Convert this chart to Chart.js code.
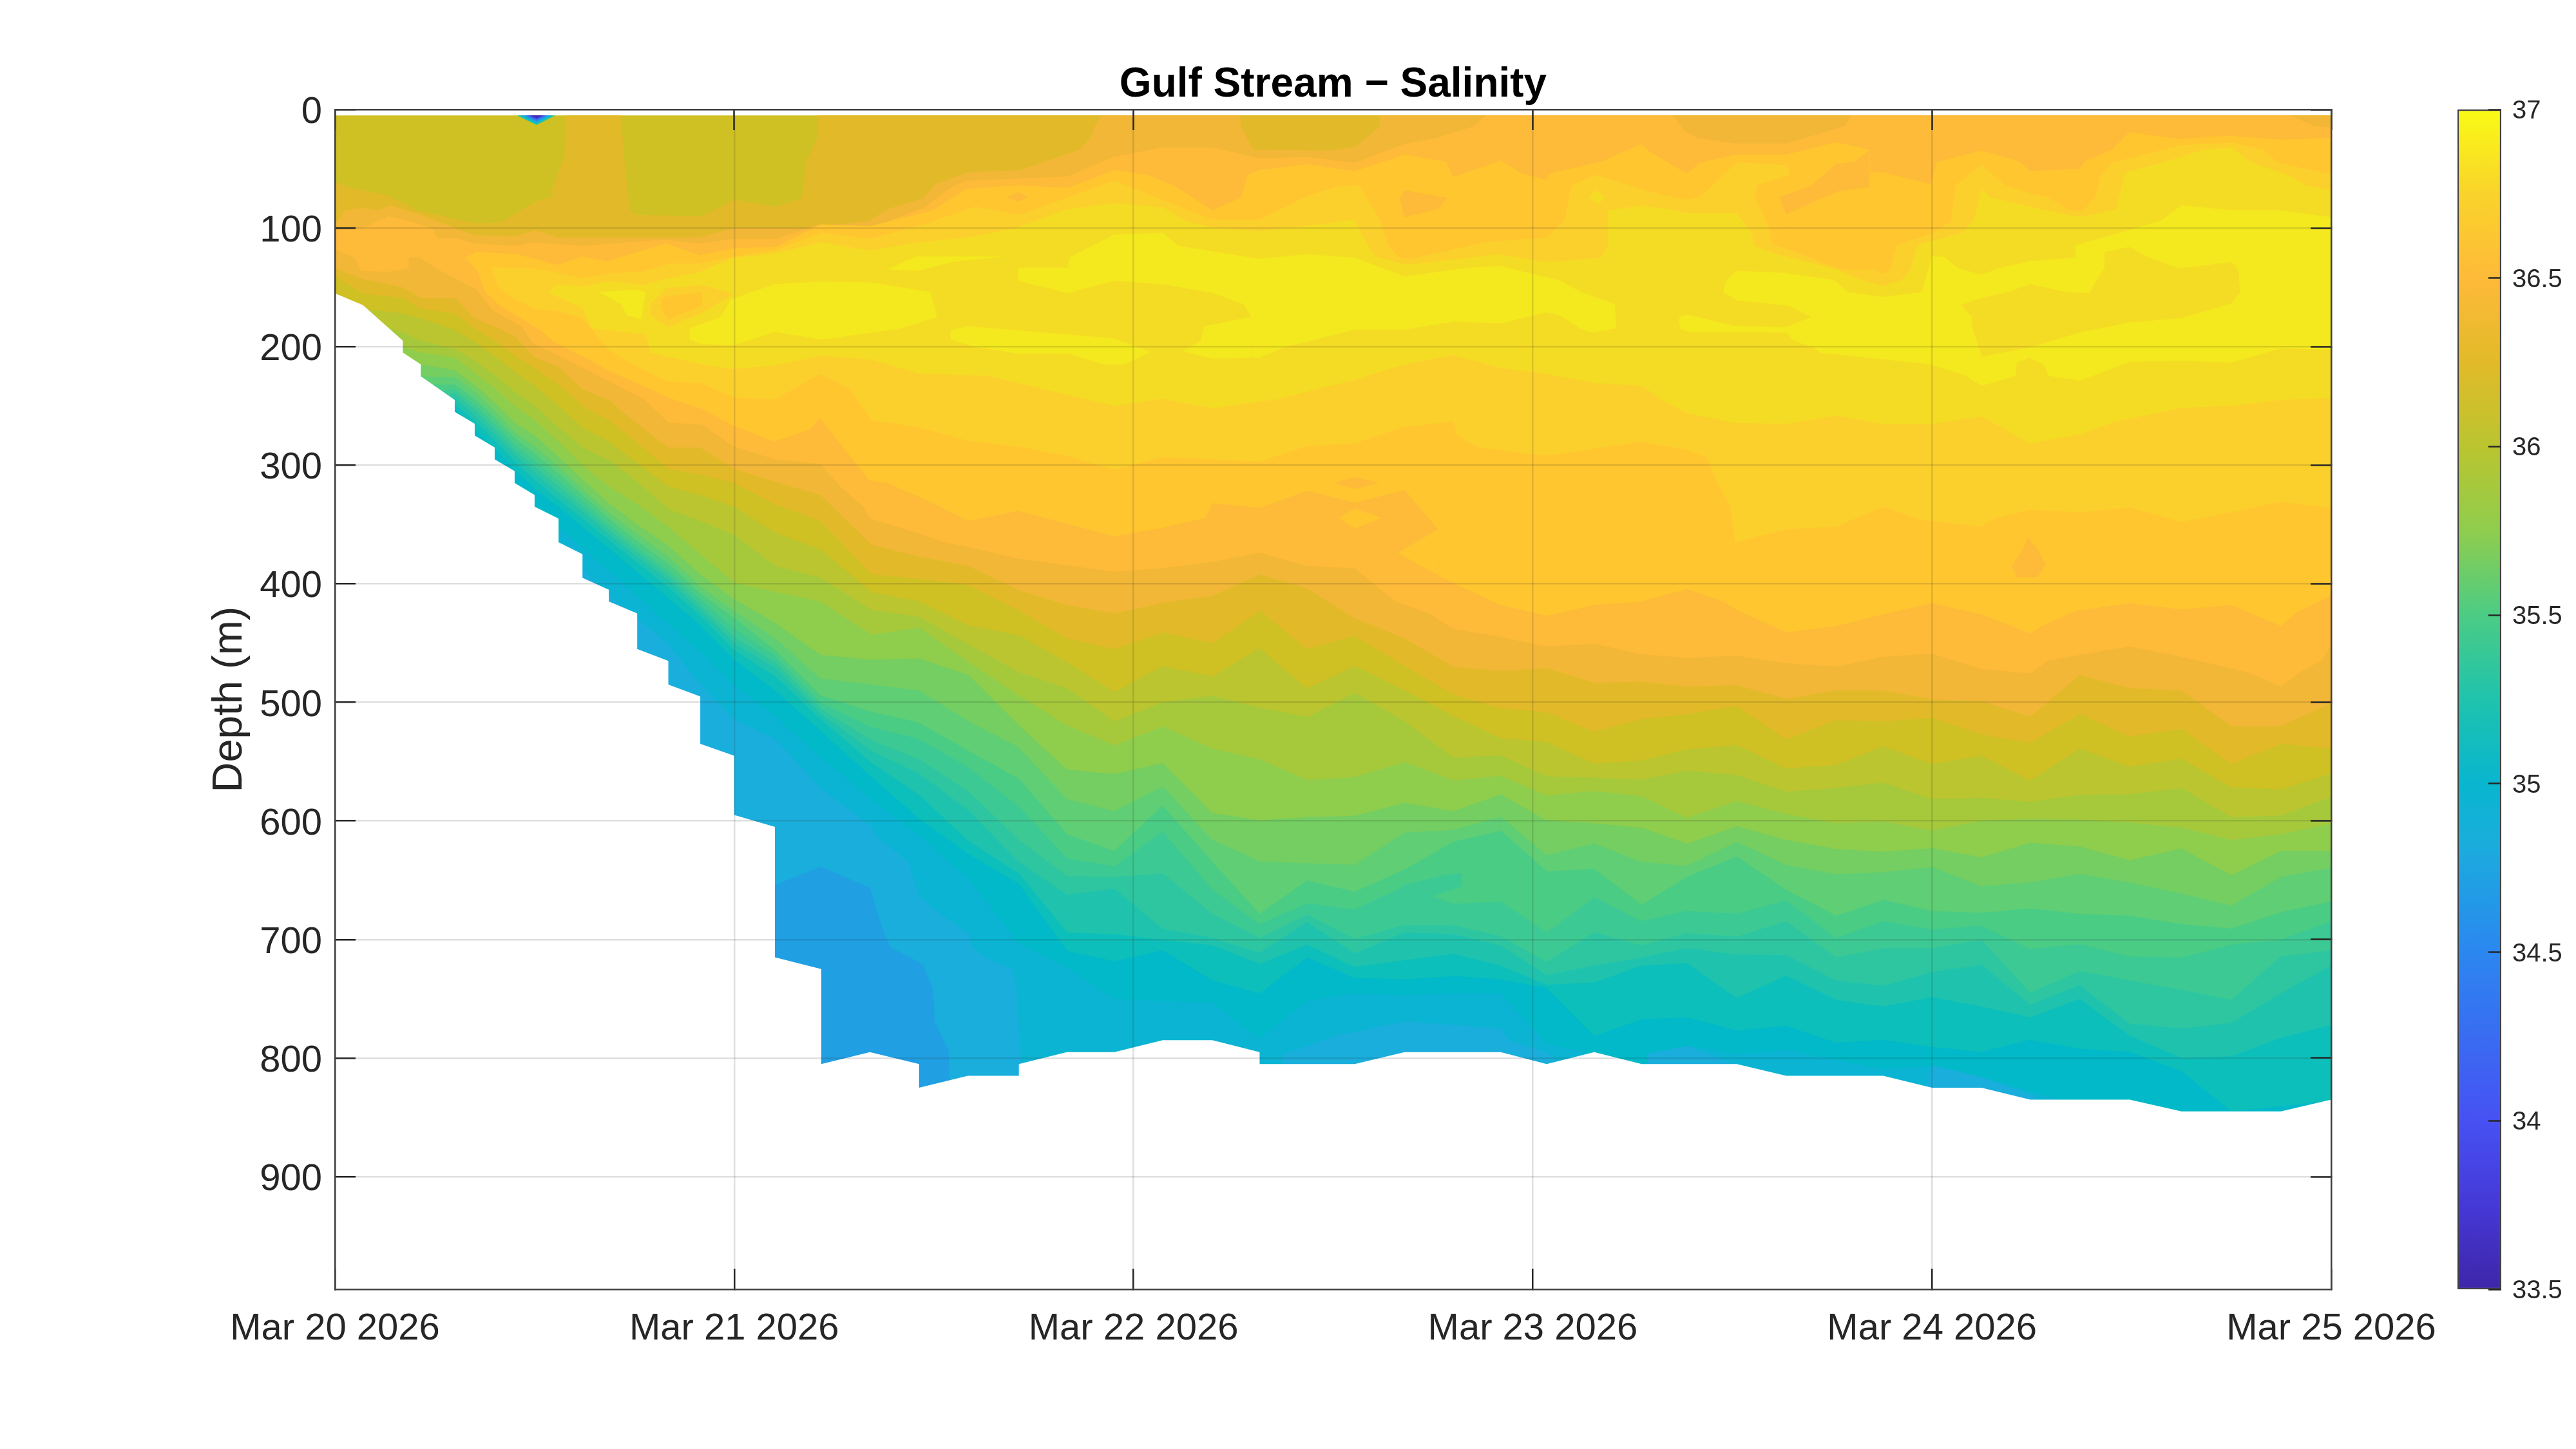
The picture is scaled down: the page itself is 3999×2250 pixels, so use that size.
<!DOCTYPE html>
<html><head><meta charset="utf-8">
<script src="https://cdn.jsdelivr.net/npm/chart.js@4"></script>
<style>html,body{margin:0;padding:0;background:#fff;width:3999px;height:2250px;overflow:hidden}
canvas{position:absolute;top:0}</style></head>
<body><canvas id="main" width="3999" height="2250" style="left:0"></canvas><canvas id="bar" width="239" height="2250" style="left:3760px"></canvas>
<script>
// ---------- axis labels ----------
const chartTitle='Gulf Stream − Salinity';
const yTitle='Depth (m)';
const dateLabels=['Mar 20 2026','Mar 21 2026','Mar 22 2026','Mar 23 2026','Mar 24 2026','Mar 25 2026'];
const depthTicks=[0,100,200,300,400,500,600,700,800,900];
const colorRange=[33.5,37];
// ---------- profile times (days since Mar 20) ----------
const T=[0,.07,.17,.215,.30,.35,.40,.45,.50,.56,.62,.686,.757,.835,.915,1.0,1.103,1.216,1.344,1.463,1.587,1.713,1.834,1.952,2.073,2.198,2.316,2.435,2.554,2.679,2.801,2.92,3.035,3.154,3.273,3.386,3.511,3.635,3.76,3.878,4.0,4.124,4.246,4.37,4.495,4.625,4.75,4.874,5.0];
// ---------- lower salinity contours: depth (m) at each profile time ----------
const iso_B=[134,143,150,159,159,176,183,191,209,217,236,245,265,285,285,303,314,325,367,377,385,405.5,418,425,416,410,392,404,429,446,470,473.5,471,483.5,482.5,486.6,485.6,497,490,490,497.5,499,512,477,488,490,520,520,500.6];
const iso_C=[141,155,159,168,172,185,195,207,218,232,250,262,281,303,308,315,333,347,392,396,401,422.6,446,455,441,450,422.6,455,444,469.4,493,505,508.4,524.6,514,510,503,531,515,516,513,527,534,510,528.7,522.4,552,535,539];
const iso_D=[160,168,172,176,186,196,208,221,233,250,268,280,298,318,325,335,357,371,407,415,435,443.5,466.3,491.2,469.4,478.1,454.4,488.1,469.4,489.7,511.5,530.2,533.4,552,549,539.6,535.9,555.8,552.7,537.1,552.1,544.9,566.1,539,554.3,547.4,571.7,573.3,559.9];
const iso_E=[170,178,188,195,202,212,224,238,250,268,285,296,314,337,347,359,385,395,422,428,451,474.7,488.1,516.2,500,494.4,504.4,512.5,491.9,516.2,546.5,544.9,562.4,563.6,565.2,557.7,561.4,575.5,572.3,567.7,581.7,580.5,583.9,578,577.6,572.3,596.7,595.4,580.1];
const iso_F=[180,188,200,205,209,222,235,250,262,280,300,318,333,352,375,399,407,415,443,437,466,494.4,519.3,536.5,520.3,539,548,565.5,563,550.5,566,562,578.6,574.8,579.2,597.3,583.3,594.2,602,600.4,608.2,599.8,598.2,598.9,601.4,605.7,616,611.3,602];
const iso_G=[190,198,210,215,220,232,247,264,275,293,312,332,350,368,392,413,433,460,464,463,477,519.3,556.7,560.5,551.1,593.2,599.5,596.7,595.7,584.8,591.7,577.6,599.5,602,605.7,619.1,604.5,616,623.8,626,622.9,630.7,618.5,621.6,633.2,623.2,645.6,625.4,625.4];
const iso_H=[200,208,220,225,226,238,254,272,284,301,320,340,358,377,402,423,446,480,485,490,516,538,581.7,591.7,570.8,616,634,635.7,637,609.8,607.6,596.4,629,619,634.7,637.8,617.6,637.2,645,643.2,638.8,655,651.9,644.7,651.9,661.2,671.5,647.2,639.4];
const iso_I=[210,218,230,232,232,244,260,277,290,307,325,345,364,383,408,429,456,494,508,517,541,564.5,611.3,625.4,587,634.7,678.4,650.3,659.7,641,617.6,608.2,642.5,640.3,670.6,647.2,630,658.1,680,666.5,675.9,677.5,673.7,678.4,680,687.1,690.9,676.8,668.1];
const iso_J=[220,228,240,240,236,249,265,282,296,313,330,350,369,389,413,438,461,500,521,531,555,588,631.6,638.5,609,658.1,687.1,669.6,674.7,655,670,668,694,664.4,684.6,675.9,678.4,666.9,698.7,684.6,691.5,688.4,708,704,714.3,715.2,704.3,700.2,684.6];
const iso_K=[230,238,250,250,239,253,269,287,301,318,335,354,373,393,418,445,466,505,532,548,575,616,646.6,647.2,644.1,678.4,698.7,679,699.6,687.8,687.8,697.1,719,694,704.9,694.6,697.7,684.6,714.9,707.4,707.4,700.2,744.8,726.7,734.5,742.3,750.8,714.3,709];
const iso_L=[240,248,260,260,243,258,274,291,306,323,339,358,377,397,422,450,471,509,541,560,591,634.7,662.2,657.2,690.9,698.7,711.1,685.3,711.8,694,695.6,705,729.9,722,715.2,707.1,712.7,713.3,734.5,739.2,727.4,721.4,754.8,738.6,771,775.1,770.4,745.5,722];
const iso_M=[250,258,270,270,248,263,279,297,312,329,345,363,382,403,427,456,478,514,551,578,617,644.1,694,695.6,700.2,704.9,720.5,704.3,723,717.4,712.1,722.1,738.3,736.1,722.1,719.9,749.2,730.5,750.8,756.4,748.6,756.4,765.7,750.1,781,800,798.5,782.9,772];
const iso_N=[260,268,280,280,252,270,286,304,320,335,352,370,390,412,435,464,490,524,563,598,628,653,709.6,718.3,709,734.5,745.5,715.2,732.4,733.6,730.8,733.6,740.8,781.3,767.3,765.7,776.6,772.9,787,784.5,790.7,794.7,784.5,792.2,794.7,811,845,840.6,836];
const iso_O=[270,278,290,290,260,285,300,318,335,352,370,389,410,434,457,485,512,546,582,612,649,703,723.6,750.2,751.7,753.3,783.8,751.7,745.5,747,745.5,745.5,787.6,797,806,789,797,793,801.6,809.4,806.3,815.6,828,840,840,860,860,860,860];
// ---------- contours with their own vertices: [day, depth m] ----------
const surface=[[0,5],[5,5]];
const iso_S1=[[0,61],[.037,66],[.128,72],[.207,85],[.309,93],[.354,96],[.416,95],[.501,78],[.541,74],[.546,65],[.575,40],[.577,5],[.716,5],[.728,54],[.739,85],[.756,89],[.92,90],[.999,76],[1.101,82],[1.169,75],[1.18,44],[1.208,24],[1.209,5],[5,5]];
const iso_S2=[[0,97],[.026,85],[.071,83],[.105,85],[.139,81],[.207,88],[.349,106],[.45,107],[.501,102],[.558,108],[.75,108],[.914,108],[.999,100],[1.18,100],[1.339,94],[1.384,84],[1.474,75],[1.503,63],[1.587,53],[1.717,51],[1.864,34],[1.892,24],[1.903,15],[1.92,5],[2.266,5],[2.27,15],[2.30,34],[2.497,34.5],[2.554,31.6],[2.616,15],[2.617,5],[5,5]];
const iso_S3=[[0,102],[.071,100],[.134,90],[.207,96],[.247,101],[.258,109],[.298,108],[.349,113],[.45,115],[.501,112],[.62,115],[.773,111],[.829,110],[.914,113],[.999,109],[1.107,109],[1.169,102],[1.214,97],[1.344,100],[1.474,83],[1.542,66],[1.581,60],[1.836,56.5],[1.949,40],[2.073,32],[2.198,32],[2.316,41],[2.435,40],[2.554,45],[2.679,29],[2.758,24],[2.854,14],[2.882,5],[3.352,5],[3.38,18],[3.414,24],[3.51,28.7],[3.635,28.7],[3.782,14],[3.799,5],[4.897,5],[4.959,14],[5,15]];
const iso_S4=[[0,125],[.326,125],[.354,120],[.456,122],[.558,131],[.62,124],[.682,128],[.829,113],[.914,123],[.999,117],[1.107,115.5],[1.18,103],[1.22,97],[1.339,98.5],[1.497,85],[1.582,67],[1.711,64],[1.836,66],[1.952,51],[2.034,55],[2.101,64],[2.198,85],[2.271,74],[2.285,55],[2.316,51],[2.435,46],[2.554,52],[2.679,38],[2.783,44],[2.801,57],[2.92,43],[2.973,54],[3.035,59.5],[3.041,54],[3.171,44],[3.273,29],[3.29,35],[3.386,54],[3.42,44.5],[3.51,38],[3.635,38],[3.76,27.5],[3.844,34],[3.846,53],[3.878,53],[3.997,63],[4.011,44.5],[4.124,34.5],[4.218,43.7],[4.246,52],[4.371,50],[4.382,43.7],[4.45,34],[4.495,19],[4.62,25],[4.744,22],[4.874,25.5],[5,24]];
const iso_S5=[[0,133],[.391,133],[.501,134],[.62,142],[.694,138],[.767,137],[.841,130],[.914,130],[.999,124],[1.101,119],[1.18,109],[1.22,104],[1.339,109],[1.474,97],[1.576,85],[1.604,82],[1.717,89],[1.836,74],[1.952,60],[2.198,93],[2.316,93],[2.435,73],[2.509,65],[2.565,64],[2.616,92],[2.639,115],[2.665,125],[2.695,126],[2.882,112],[3.035,108],[3.08,93.5],[3.097,64],[3.154,55],[3.29,69],[3.386,76.5],[3.42,74],[3.51,44.5],[3.635,47],[3.646,55],[3.647,119],[3.771,135],[3.853,135],[3.878,139],[3.895,135],[3.912,114.5],[3.997,105],[4.048,94.6],[4.059,64],[4.124,47],[4.184,64],[4.252,71.6],[4.291,74],[4.342,85],[4.376,86],[4.41,74],[4.421,57],[4.45,45],[4.625,30],[4.75,28],[4.829,34],[4.868,45],[5,55]];
const iso_S6=[[0,150],[.533,154],[.558,147.5],[.62,149.4],[.688,144.6],[.773,148],[.829,143],[.914,137],[.999,125],[1.101,121.5],[1.22,112],[1.339,119],[1.463,112],[1.587,108],[1.711,99.5],[1.83,84.5],[1.949,79],[2.073,82.5],[2.135,94.7],[2.198,99.5],[2.316,102.7],[2.43,98.3],[2.554,93],[2.582,111.6],[2.605,123.8],[2.684,131],[2.916,122],[3.035,128.6],[3.171,125],[3.188,114.6],[3.189,85],[3.273,81],[3.355,85],[3.386,87.4],[3.51,87.4],[3.55,104.4],[3.552,114.6],[3.601,121],[3.76,134.7],[3.816,143],[3.878,149],[3.924,144],[3.946,134.7],[3.963,114],[4.076,104],[4.105,93.5],[4.124,67],[4.144,74],[4.252,82.5],[4.371,91],[4.461,84],[4.484,53.4],[4.625,40],[4.682,34],[4.75,32],[4.801,45],[4.897,56],[4.936,64],[5,68]];
const iso_D21=[[0,150],[.533,154],[.62,167.6],[.643,184.6],[.778,189.5],[.79,205],[.92,215],[.999,219],[1.101,215.7],[1.22,207.7],[1.344,211],[1.463,222.7],[1.633,224.6],[1.649,225.6],[1.952,250],[2.073,244],[2.198,252],[2.367,244],[2.435,237.8],[2.554,228],[2.667,216],[2.801,207],[2.92,218],[3.035,223],[3.154,230.5],[3.273,233],[3.29,236.6],[3.324,245],[3.386,256],[3.51,264.5],[3.635,265],[3.76,258],[3.878,265.6],[4.0,265],[4.124,259],[4.246,281.5],[4.371,274],[4.461,263],[4.625,251.6],[4.75,250],[4.874,245],[5,243.4]];
const iso_D20=[[0,125],[.391,133],[.41,150],[.45,160],[.5,168],[.56,170],[.62,176],[.686,203],[.757,217],[.835,229.5],[.915,230.7],[1.0,243],[1.103,244.6],[1.216,223],[1.29,235.6],[1.344,262],[1.463,268],[1.587,279.5],[1.717,284.6],[1.836,292.4],[1.952,304],[2.073,293],[2.316,297],[2.435,284],[2.554,281.5],[2.679,267.6],[2.801,263],[2.809,274],[2.86,284.6],[3.035,292],[3.273,280],[3.29,281.5],[3.386,287],[3.437,293.6],[3.46,314],[3.494,333.6],[3.507,365],[3.635,354],[3.76,351.8],[3.878,335],[3.969,345.7],[4.124,351.8],[4.155,345],[4.246,337.7],[4.371,339.6],[4.495,335.5],[4.625,347.7],[4.75,339.6],[4.874,330.7],[5,336]];
const iso_D19=[[0,125],[.326,125],[.356,136],[.377,154],[.411,165],[.513,186],[.552,196.7],[.637,211],[.688,221],[.773,233],[.835,243],[.92,252.5],[.999,267],[1.101,280],[1.191,269.5],[1.214,260],[1.225,264.7],[1.271,284],[1.339,313],[1.384,315],[1.486,330],[1.587,347],[1.711,338.5],[1.952,360],[2.068,353],[2.18,344.5],[2.198,332],[2.316,336],[2.435,321.5],[2.554,331.7],[2.679,321],[2.763,354],[2.764,393],[2.78,396],[2.92,418],[3.035,427],[3.154,418],[3.273,415],[3.29,413],[3.386,404.5],[3.477,415],[3.511,422],[3.635,441],[3.76,435.7],[3.878,425.7],[4,416.4],[4.124,425.7],[4.246,442],[4.274,435.7],[4.359,423],[4.495,416.4],[4.625,421.7],[4.75,418],[4.874,435.7],[4.914,424],[5,410]];
const iso_D18=[[0,118],[.049,125],[.065,136],[.133,137],[.184,134],[.185,125],[.213,125],[.258,135],[.354,152],[.394,169],[.467,183],[.496,197],[.603,215],[.688,229.5],[.773,244],[.835,264],[.92,266],[.999,284],[1.101,295],[1.216,299],[1.265,318],[1.322,334.6],[1.339,344.8],[1.463,357.7],[1.525,365],[1.587,369],[1.713,379],[1.952,390],[2.073,387],[2.198,381.5],[2.316,374],[2.435,385],[2.554,387],[2.656,415],[2.741,425],[2.801,438],[2.92,445],[3.035,453],[3.154,450.7],[3.273,459.5],[3.386,462.6],[3.511,460.7],[3.635,467],[3.76,470],[3.878,461.6],[4,459],[4.124,472],[4.246,475.6],[4.291,464.7],[4.371,460],[4.495,453],[4.625,461.6],[4.795,475],[4.874,487],[4.925,474],[4.976,464.7],[5,452]];
const iso_P=[[0,300],[.50,345],[.56,370],[.62,388],[.686,410],[.757,429],[.835,451],[.915,485],[1.0,514],[1.103,531],[1.216,572],[1.344,605],[1.36,614],[1.438,635],[1.452,652],[1.465,664],[1.505,675.7],[1.589,695.6],[1.594,704.7],[1.626,714.7],[1.696,724.7],[1.707,741],[1.718,800],[1.72,830],[2.373,830],[2.374,797],[2.509,781],[2.679,769],[2.801,772],[2.92,775],[2.94,785],[3.035,795],[3.087,810],[3.1,840],[3.28,840],[3.29,796],[3.386,790],[3.511,806],[3.6,860],[3.96,860],[4.0,806],[4.124,816],[4.246,831],[4.4,860],[5,860]];
const floor_depth=[[0,155],[.07,165],[.17,195],[.17,205],[.215,215],[.215,225],[.30,245],[.30,255],[.35,265],[.35,275],[.40,285],[.40,295],[.45,305],[.45,315],[.50,325],[.50,335],[.56,345],[.56,365],[.62,375],[.62,395],[.686,405],[.686,415],[.757,425],[.757,455],[.835,465],[.835,485],[.915,495],[.915,535],[1.0,545],[1.0,595],[1.102,605],[1.102,715],[1.218,725],[1.218,805],[1.34,795],[1.463,805],[1.463,825],[1.585,815],[1.713,815],[1.713,805],[1.833,795],[1.952,795],[2.073,785],[2.198,785],[2.316,795],[2.316,805],[2.554,805],[2.679,795],[2.92,795],[3.035,805],[3.154,795],[3.273,805],[3.511,805],[3.635,815],[3.878,815],[4.0,825],[4.124,825],[4.246,835],[4.495,835],[4.625,845],[4.874,845],[5,835]];
// ---------- closed patches: upper / lower edge ----------
const hi1u=[[.889,184.6],[.965,175],[.993,160],[1.101,147.5],[1.22,145],[1.344,146],[1.491,154],[1.508,175]];
const hi1l=[[.889,194],[.92,198],[.999,198.7],[1.101,187.5],[1.22,194],[1.418,184.6],[1.508,175]];
const hi2u=[[.66,154],[.756,152],[.778,154]];
const hi2l=[[.66,154],[.716,164],[.733,174],[.767,176.4],[.778,154]];
const hi3u=[[1.384,135],[1.457,124],[1.678,124]];
const hi3l=[[1.384,135],[1.46,136],[1.55,128.3],[1.678,124]];
const hi4u=[[1.542,186],[1.587,182.7],[1.949,193],[2.043,204.6]];
const hi4l=[[1.542,194],[1.6,200],[1.711,205.8],[1.836,205.8],[1.926,215],[1.979,215],[2.043,204.6]];
const hi5u=[[1.711,133.5],[1.836,133.5],[1.841,124.5],[1.952,105.6],[2.073,104],[2.113,115],[2.316,126],[2.435,122],[2.554,125],[2.679,141],[2.826,134],[2.916,132],[3.069,144.4],[3.12,154],[3.205,164],[3.21,184.4]];
const hi5l=[[1.711,144.4],[1.836,154.8],[1.952,144.4],[2.073,147.3],[2.198,154.6],[2.277,164.3],[2.294,174.7],[2.295,209],[2.316,209.4],[2.373,201],[2.554,185.6],[2.679,185.6],[2.801,178.8],[2.92,180.3],[3.035,171],[3.069,174],[3.12,185],[3.148,188],[3.21,184.4]];
const hi6u=[[2.124,204],[2.169,194.9],[2.177,183],[2.294,174.7]];
const hi6l=[[2.124,204],[2.198,210],[2.294,209.5]];
const hi7u=[[3.477,154],[3.485,144.4],[3.511,136],[3.629,137.8],[3.756,143.9],[3.788,154],[3.878,158],[3.975,154],[4.0,123.8],[4.031,124.3],[4.065,133.9],[4.124,139.5],[4.167,133.9],[4.246,127.9],[4.359,125],[4.36,114.6],[4.574,93.9],[4.625,80.8],[4.75,85],[4.868,85],[5,91]];
const hi7l=[[3.477,154],[3.511,160.9],[3.641,165.5],[3.697,174.7],[3.698,199.7],[3.72,205],[3.997,215],[4.082,224],[4.125,233],[4.21,224.5],[4.212,213.5],[4.244,209.4],[4.28,215],[4.291,224.5],[4.371,228.6],[4.495,212.8],[4.625,211.8],[4.75,213.5],[4.874,201.4],[5,202.6]];
const hi8u=[[3.367,175.4],[3.386,172.8],[3.505,182.5],[3.635,183.7],[3.697,175]];
const hi8l=[[3.367,180.8],[3.371,185],[3.392,187.6],[3.635,188],[3.654,195],[3.697,200]];
const lakeu=[[4.071,165],[4.122,159],[4.19,154],[4.246,147.3],[4.337,154],[4.393,154.8],[4.431,134],[4.432,120],[4.495,115.8],[4.535,123.8],[4.62,134],[4.75,128.6],[4.767,134.7],[4.772,154]];
const lakel=[[4.071,165],[4.099,174.7],[4.1,183.2],[4.125,208.7],[4.252,200],[4.371,188],[4.495,179.6],[4.625,176],[4.75,163.8],[4.772,154]];
const ringu=[[.79,164],[.829,150.7],[.92,148],[.999,155.5]];
const ringl=[[.79,173.7],[.835,183.4],[.92,171.3],[.999,155.5]];
const coreu=[[.816,160.4],[.829,157.9],[.92,153.6]];
const corel=[[.816,167.7],[.835,177.3],[.92,165.2]];
const d1u=[[1.681,74],[1.711,69.7],[1.737,74]];
const d1l=[[1.681,74],[1.711,77.7],[1.737,74]];
const d2u=[[2.667,75],[2.679,68],[2.786,74.5]];
const d2l=[[2.667,75],[2.679,91],[2.763,84],[2.786,74.5]];
const d3u=[[3.14,74],[3.16,68],[3.18,74]];
const d3l=[[3.14,74],[3.165,80],[3.18,74]];
const p19u=[[3.556,74],[3.562,64],[3.646,55]];
const p19l=[[3.556,74],[3.59,98],[3.601,114],[3.646,119]];
const p18u=[[3.618,74],[3.697,64.4],[3.76,46],[3.808,43.7],[3.844,34]];
const p18l=[[3.618,74],[3.635,88.6],[3.703,77.7],[3.765,69],[3.844,65.5]];
const w1u=[[2.662,374],[2.763,354]];
const w1l=[[2.662,374],[2.763,393]];
const d4u=[[2.503,315],[2.554,310],[2.616,315]];
const d4l=[[2.503,315],[2.554,320],[2.616,315]];
const d5u=[[2.514,344.5],[2.554,336.5],[2.622,344.5]];
const d5l=[[2.514,344.5],[2.554,353.5],[2.622,344.5]];
const d6u=[[4.20,385],[4.229,370],[4.24,361],[4.263,370],[4.286,384]];
const d6l=[[4.20,385],[4.213,394.6],[4.263,394.6],[4.286,384]];
const tongueu=[[2.667,655],[2.78,645.6],[2.823,644]];
const tonguel=[[2.667,655],[2.741,664.4],[2.823,655]];
const q1u=[[1.102,654],[1.218,638.6],[1.341,656.6],[1.357,675.6],[1.374,693.8],[1.392,706.5],[1.473,721],[1.497,741],[1.503,770],[1.537,793.5],[1.54,830]];
const q1l=[[1.102,840],[1.54,840]];
const wedgeDepths=[13,11.5,10,8.5,7];
const wedgeStart=[.456,.465,.474,.482,.49];
const wedgeEnd=[.552,.543,.535,.527,.52];
const wedgeMid=.505;

// ---------- styles ----------
const colBand={c1:'#209fe3',c2:'#1aaedc',c3:'#0bb4d2',c4:'#01b9c8',c5:'#0dbfba',c6:'#1fc3ad',c7:'#2ec6a1',c8:'#3cc993',c9:'#4acc85',c10:'#60ce74',c11:'#74ce61',c12:'#8fcd4d',c13:'#a6c93c',c14:'#bac52f',c15:'#cfc023',c16:'#e2ba29',c17:'#f2b737',c18:'#feba39',c19:'#ffc630',c20:'#fbd02c',c21:'#f5dc24',c22:'#f4e91e'};
const wedgeCols=['#1fc3ad','#12aedc','#2d85f0','#4648e0','#3b2aa8'];
const ink='#262626', frame='#404040';
const grid='rgba(38,38,38,0.15)';

const ds=[];
const pts=a=>a.map(([x,y])=>({x,y}));
const zipT=a=>T.map((x,i)=>[x,a[i]]);
function layer(a,color){ds.push({data:pts(a),backgroundColor:color,fill:{value:995},borderWidth:0,pointRadius:0,tension:0});}
function patch(u,l,color){
  ds.push({data:pts(u),backgroundColor:color,fill:'+1',borderWidth:0,pointRadius:0,tension:0});
  ds.push({data:pts(l),backgroundColor:'rgba(0,0,0,0)',fill:false,borderWidth:0,pointRadius:0,tension:0});
}
const C=colBand;
layer(surface,C.c15);layer(iso_S1,C.c16);layer(iso_S2,C.c17);layer(iso_S3,C.c18);layer(iso_S4,C.c19);layer(iso_S5,C.c20);layer(iso_S6,C.c21);
patch(hi1u,hi1l,C.c22);patch(hi2u,hi2l,C.c22);patch(hi3u,hi3l,C.c22);patch(hi4u,hi4l,C.c22);patch(hi5u,hi5l,C.c22);patch(hi6u,hi6l,C.c22);patch(hi7u,hi7l,C.c22);patch(hi8u,hi8l,C.c22);
patch(lakeu,lakel,C.c21);patch(ringu,ringl,C.c20);patch(coreu,corel,C.c19);patch(d3u,d3l,C.c21);
patch(p19u,p19l,C.c19);patch(d1u,d1l,C.c18);patch(d2u,d2l,C.c18);patch(p18u,p18l,C.c18);
layer(iso_D21,C.c20);layer(iso_D20,C.c19);layer(iso_D19,C.c18);
patch(w1u,w1l,C.c19);patch(d4u,d4l,C.c18);patch(d5u,d5l,C.c19);patch(d6u,d6l,C.c18);
layer(iso_D18,C.c17);
layer(zipT(iso_B),C.c16);layer(zipT(iso_C),C.c15);layer(zipT(iso_D),C.c14);layer(zipT(iso_E),C.c13);layer(zipT(iso_F),C.c12);layer(zipT(iso_G),C.c11);layer(zipT(iso_H),C.c10);layer(zipT(iso_I),C.c9);layer(zipT(iso_J),C.c8);
patch(tongueu,tonguel,C.c8);
layer(zipT(iso_K),C.c7);layer(zipT(iso_L),C.c6);layer(zipT(iso_M),C.c5);layer(zipT(iso_N),C.c4);layer(zipT(iso_O),C.c3);layer(iso_P,C.c2);
patch(q1u,q1l,C.c1);
wedgeDepths.forEach((d,i)=>patch([[wedgeStart[i],5],[wedgeEnd[i],5]],[[wedgeStart[i],5],[wedgeMid,d],[wedgeEnd[i],5]],wedgeCols[i]));
layer(floor_depth,'#ffffff');
ds.forEach((d,i)=>{d.order=-i;});

const tickFont={family:'"Liberation Sans",Arial,sans-serif',size:58};
const depthTickList=s=>{s.ticks=depthTicks.map(value=>({value}));};
new Chart(document.getElementById('main'),{
  type:'line',
  data:{datasets:ds},
  options:{
    responsive:false,animation:false,devicePixelRatio:1,
    layout:{padding:0},
    events:[],
    plugins:{legend:{display:false},tooltip:{enabled:false},
      title:{display:true,text:chartTitle,fullSize:false,color:'#000',align:'center',
        font:{family:'"Liberation Sans",Arial,sans-serif',size:64,weight:'bold',lineHeight:1.15},padding:{top:96,bottom:0.4}}},
    scales:{
      x:{type:'linear',position:'bottom',min:0,max:5,afterFit:s=>{s.height=248;},
        ticks:{stepSize:1,includeBounds:false,autoSkip:false,maxRotation:0,padding:59,color:ink,font:tickFont,callback:v=>dateLabels[v]},
        grid:{color:grid,lineWidth:2.5,z:1,tickLength:-32,tickColor:ink,tickWidth:2.5},
        border:{display:true,color:frame,width:2.5,z:2}},
      y:{type:'linear',position:'left',reverse:true,min:0,max:995,afterFit:s=>{s.width=520;},afterBuildTicks:depthTickList,
        ticks:{autoSkip:false,padding:52,labelOffset:5,color:ink,font:tickFont},
        grid:{color:grid,lineWidth:2.5,z:1,tickLength:-32,tickColor:ink,tickWidth:2.5},
        border:{display:true,color:frame,width:2.5,z:2},
        title:{display:true,text:yTitle,color:ink,font:{family:'"Liberation Sans",Arial,sans-serif',size:65},padding:{top:318,bottom:0}}},
      x2:{axis:'x',type:'linear',position:'top',min:0,max:5,afterFit:s=>{s.height=0;},
        ticks:{display:false,stepSize:1,includeBounds:false},
        grid:{drawOnChartArea:false,z:1,tickLength:-32,tickColor:ink,tickWidth:2.5},
        border:{display:true,color:frame,width:2.5,z:2}},
      y2:{axis:'y',type:'linear',position:'right',reverse:true,min:0,max:995,afterFit:s=>{s.width=380;},afterBuildTicks:depthTickList,
        ticks:{display:false},
        grid:{drawOnChartArea:false,z:1,tickLength:-32,tickColor:ink,tickWidth:2.5},
        border:{display:true,color:frame,width:2.5,z:2}}
    }
  }
});

// ---------- colour bar ----------
const barStops=[[0,'#3e26a8'],[.07,'#4538d6'],[.143,'#4751f3'],[.286,'#2b87f0'],[.38,'#1aaedc'],[.429,'#08b6cf'],[.5,'#1fc3ad'],[.571,'#4bcc85'],[.643,'#8fcd4d'],[.714,'#bac52f'],[.786,'#e2ba29'],[.857,'#feba39'],[.93,'#f9d42a'],[1,'#f9fb15']];
new Chart(document.getElementById('bar'),{
  type:'bar',
  data:{labels:['S'],datasets:[{data:[colorRange],
    backgroundColor:c=>{const a=c.chart.chartArea;if(!a)return '#fff';const g=c.chart.ctx.createLinearGradient(0,a.bottom,0,a.top);barStops.forEach(([p,col])=>g.addColorStop(p,col));return g;},
    borderColor:frame,borderWidth:2.5,borderSkipped:false,barPercentage:1,categoryPercentage:1}]},
  options:{responsive:false,animation:false,devicePixelRatio:1,events:[],
    layout:{padding:{left:55,top:170,bottom:248,right:0}},
    plugins:{legend:{display:false},tooltip:{enabled:false}},
    scales:{
      x:{display:false},
      y:{position:'right',min:colorRange[0],max:colorRange[1],afterFit:s=>{s.width=116;},
        ticks:{stepSize:.5,padding:37,labelOffset:3,color:ink,font:{family:'"Liberation Sans",Arial,sans-serif',size:40},callback:v=>String(v)},
        grid:{drawOnChartArea:false,z:1,tickLength:-20,tickColor:ink,tickWidth:2.5},
        border:{display:false}}
    }
  }
});
</script></body></html>
